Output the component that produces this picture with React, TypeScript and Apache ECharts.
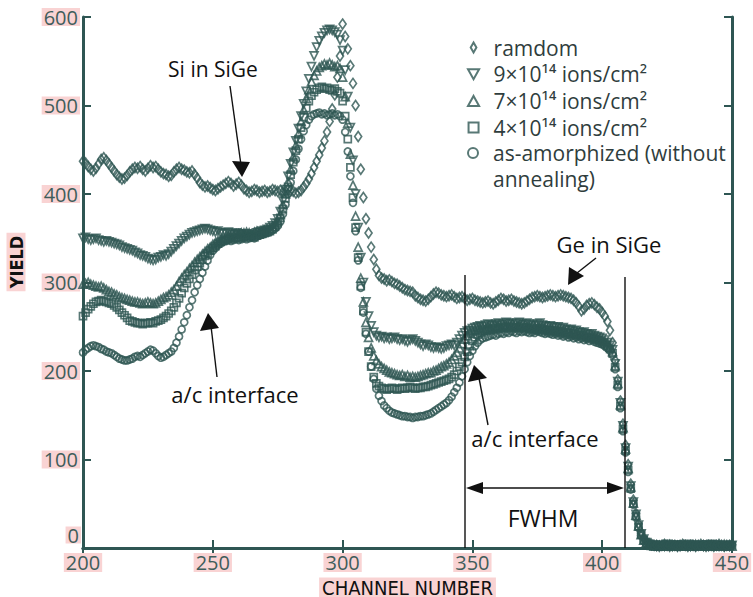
import React, { useEffect, useRef } from 'react';
import * as echarts from 'echarts';

// ---- data ----
const CH_START = 200;
const CH_END = 450;
const xTicks = [200, 250, 300, 350, 400, 450];
const yTicks = [0, 100, 200, 300, 400, 500, 600];

const seriesNames = [
  'ramdom',
  '9×10¹⁴ ions/cm²',
  '7×10¹⁴ ions/cm²',
  '4×10¹⁴ ions/cm²',
  'as-amorphized (without annealing)',
];

// yields per channel, channel 200 .. 450
const ramdom = [
  437, 435, 431, 428, 426, 429, 434, 439, 441, 438,
  434, 430, 426, 422, 419, 417, 418, 421, 425, 428,
  430, 429, 431, 428, 426, 429, 432, 430, 431, 428,
  425, 423, 422, 420, 421, 425, 428, 430, 428, 427,
  425, 424, 426, 422, 418, 413, 410, 408, 409, 407,
  405, 404, 406, 408, 410, 412, 414, 412, 409, 411,
  413, 410, 406, 404, 402, 403, 405, 404, 402, 403,
  404, 402, 403, 405, 404, 403, 404, 402, 403, 405,
  404, 403, 401, 402, 404, 408, 412, 417, 423, 430,
  437, 444, 452, 460, 470, 482, 496, 512, 532, 556,
  592, 578, 564, 545, 525, 500, 465, 428, 396, 372,
  356, 340, 326, 315, 308, 305, 304, 302, 303, 301,
  299, 298, 296, 294, 292, 291, 290, 289, 285, 283,
  281, 280, 279, 281, 284, 287, 289, 288, 286, 285,
  284, 285, 286, 284, 282, 283, 284, 282, 280, 281,
  282, 280, 279, 278, 277, 278, 279, 277, 276, 278,
  280, 282, 281, 279, 280, 281, 279, 278, 277, 276,
  277, 279, 281, 283, 284, 285, 284, 283, 284, 285,
  286, 285, 284, 285, 286, 285, 284, 283, 282, 280,
  277, 273, 268, 270, 274, 276, 277, 275, 272, 270,
  266, 262, 256, 246, 232, 212, 190, 166, 140, 116,
  94, 72, 54, 39, 27, 17, 11, 7, 5, 4,
  3, 3, 2, 3, 4, 3, 2, 3, 3, 2,
  3, 4, 3, 2, 3, 3, 2, 3, 4, 3,
  2, 3, 3, 2, 3, 4, 3, 2, 3, 3,
  4,
];

const dose9 = [
  350, 351, 349, 348, 349, 350, 348, 347, 346, 347,
  346, 345, 344, 343, 342, 340, 339, 338, 337, 336,
  334, 333, 331, 330, 329, 327, 326, 325, 326, 328,
  329, 331, 330, 332, 335, 338, 341, 344, 347, 350,
  352, 354, 356, 357, 358, 359, 360, 361, 360, 359,
  358, 357, 358, 356, 355, 356, 357, 355, 354, 356,
  355, 354, 353, 355, 354, 352, 354, 356, 357, 358,
  359, 360, 362, 364, 367, 372, 380, 392, 405, 420,
  434, 447, 460, 474, 488, 502, 516, 530, 544, 556,
  566, 573, 578, 582, 585, 586, 585, 583, 580, 574,
  562, 540, 510, 475, 438, 400, 362, 328, 300, 278,
  262, 251, 244, 240, 238, 239, 237, 238, 236, 237,
  238, 236, 235, 236, 234, 233, 235, 236, 234, 232,
  230, 228, 230, 229, 227, 226, 227, 226, 225, 226,
  228, 229, 230, 229, 232, 236, 240, 243, 245, 246,
  248, 249, 250, 251, 250, 252, 253, 252, 251, 253,
  254, 252, 253, 255, 254, 253, 252, 254, 255, 253,
  252, 254, 253, 252, 251, 253, 254, 252, 251, 250,
  251, 250, 249, 250, 248, 249, 247, 246, 247, 245,
  246, 244, 243, 244, 242, 241, 242, 240, 239, 238,
  237, 235, 232, 229, 224, 208, 188, 164, 138, 113,
  92, 70, 52, 38, 26, 16, 10, 6, 4, 3,
  3, 2, 3, 3, 2, 4, 3, 2, 3, 2,
  2, 3, 3, 4, 2, 3, 2, 3, 3, 2,
  3, 2, 4, 3, 3, 2, 3, 2, 3, 2,
  3,
];

const dose7 = [
  298, 299, 300, 298, 297, 296, 295, 296, 294, 292,
  290, 289, 287, 286, 284, 283, 282, 281, 280, 279,
  278, 278, 277, 276, 277, 278, 277, 276, 277, 279,
  281, 283, 284, 286, 289, 292, 296, 301, 305, 309,
  312, 316, 319, 323, 326, 329, 332, 335, 338, 340,
  343, 345, 347, 348, 350, 351, 352, 353, 354, 355,
  355, 356, 356, 357, 356, 355, 357, 358, 357, 358,
  359, 360, 361, 363, 366, 370, 377, 388, 400, 414,
  428, 442, 455, 468, 482, 495, 508, 518, 527, 534,
  539, 543, 545, 547, 546, 548, 546, 544, 545, 542,
  532, 510, 480, 445, 410, 375, 340, 305, 278, 255,
  238, 226, 217, 212, 208, 205, 203, 201, 199, 198,
  197, 196, 195, 196, 194, 195, 193, 194, 193, 194,
  195, 196, 197, 198, 198, 200, 201, 203, 205, 206,
  208, 210, 213, 217, 221, 226, 231, 236, 240, 243,
  245, 246, 247, 248, 249, 248, 250, 249, 251, 250,
  251, 250, 252, 251, 250, 252, 251, 250, 251, 252,
  251, 250, 249, 251, 250, 249, 248, 250, 249, 247,
  248, 247, 246, 247, 245, 246, 244, 245, 243, 244,
  243, 242, 241, 242, 240, 239, 240, 238, 237, 236,
  235, 233, 230, 227, 222, 206, 186, 162, 136, 112,
  90, 69, 51, 37, 25, 15, 9, 6, 4, 3,
  2, 3, 3, 2, 3, 3, 4, 2, 3, 3,
  3, 2, 3, 3, 2, 3, 4, 3, 2, 3,
  3, 3, 2, 3, 2, 3, 3, 4, 2, 3,
  2,
];

const dose4 = [
  262, 266, 270, 273, 276, 278, 279, 280, 279, 278,
  277, 276, 274, 272, 269, 266, 263, 260, 257, 256,
  255, 254, 254, 253, 254, 254, 255, 254, 256, 257,
  258, 260, 262, 265, 268, 272, 277, 282, 288, 294,
  299, 304, 309, 314, 318, 322, 326, 330, 333, 336,
  339, 341, 344, 346, 347, 348, 349, 350, 351, 350,
  351, 352, 351, 352, 353, 352, 351, 353, 354, 355,
  356, 357, 358, 360, 363, 367, 373, 383, 395, 408,
  422, 436, 449, 462, 475, 487, 497, 505, 511, 515,
  518, 520, 521, 519, 520, 518, 517, 519, 516, 514,
  505, 488, 462, 430, 396, 362, 328, 296, 268, 244,
  222, 205, 193, 186, 183, 181, 180, 179, 180, 181,
  180, 179, 180, 181, 180, 181, 182, 181, 180, 181,
  181, 182, 182, 183, 184, 185, 186, 187, 188, 189,
  190, 191, 193, 196, 200, 205, 210, 216, 222, 228,
  234, 238, 241, 243, 245, 246, 247, 246, 248, 247,
  248, 249, 248, 250, 249, 248, 250, 249, 248, 249,
  248, 249, 247, 248, 247, 246, 248, 247, 246, 245,
  246, 245, 244, 245, 243, 244, 242, 243, 241, 242,
  240, 241, 239, 240, 238, 237, 238, 236, 235, 234,
  233, 231, 228, 225, 220, 204, 184, 160, 134, 110,
  88, 67, 50, 36, 24, 15, 9, 5, 4, 3,
  3, 2, 2, 3, 3, 2, 3, 3, 2, 4,
  2, 3, 2, 3, 3, 2, 3, 2, 3, 3,
  4, 2, 3, 3, 2, 3, 2, 3, 3, 2,
  3,
];

const amorph = [
  221, 224, 226, 228, 229, 228, 227, 225, 224, 222,
  221, 220, 218, 216, 214, 213, 212, 212, 213, 214,
  216, 217, 216, 218, 220, 222, 224, 223, 220, 217,
  215, 216, 218, 220, 222, 226, 232, 239, 247, 255,
  263, 272, 280, 289, 297, 304, 311, 318, 325, 331,
  336, 339, 342, 344, 346, 347, 348, 347, 348, 349,
  348, 349, 350, 349, 350, 351, 350, 352, 353, 354,
  355, 356, 357, 359, 361, 364, 369, 377, 388, 400,
  413, 426, 439, 451, 462, 471, 478, 484, 488, 490,
  491, 492, 490, 491, 489, 490, 491, 489, 490, 488,
  484, 470, 448, 420, 390, 358, 325, 294, 266, 242,
  222, 205, 191, 180, 172, 166, 161, 158, 155, 153,
  152, 151, 150, 149, 149, 148, 148, 147, 148, 148,
  149, 149, 150, 151, 152, 154, 156, 158, 160, 162,
  164, 167, 171, 176, 181, 187, 194, 202, 210, 217,
  223, 228, 232, 235, 237, 238, 239, 240, 241, 240,
  242, 243, 242, 244, 243, 245, 244, 243, 245, 244,
  245, 244, 243, 244, 243, 245, 244, 243, 242, 243,
  242, 241, 242, 240, 241, 239, 240, 238, 239, 237,
  238, 236, 237, 235, 236, 234, 235, 233, 232, 231,
  230, 228, 226, 223, 218, 202, 182, 158, 132, 108,
  86, 66, 49, 35, 23, 14, 8, 5, 3, 3,
  2, 3, 3, 2, 3, 2, 3, 4, 3, 2,
  3, 3, 2, 3, 2, 4, 3, 3, 2, 3,
  2, 3, 3, 4, 3, 2, 3, 3, 2, 3,
  3,
];

// ---- styling ----
const INK = '#2e5653';
const PINK = '#f9d3d3';
const LABEL = '#3f5d5b';
const FONT = '"Open Sans", "Noto Sans", sans-serif';
const NARROW = '"Liberation Sans Narrow", "DejaVu Sans Condensed", "Liberation Sans", sans-serif';
const BLACK = '#111111';

const ICONS = [
  'path://M5,0L9,7L5,14L1,7Z',
  'path://M0,0L10,0L5,9Z',
  'path://M5,0L10,9L0,9Z',
  'path://M0,0L10,0L10,10L0,10Z',
  'path://M5,0A5,5,0,1,1,5,10A5,5,0,1,1,5,0Z',
];

function toPairs(values: number[]) {
  return values.map((v, i) => [CH_START + i, v]);
}

function scatter(name: string, values: number[], symbol: string, size: any, rotate = 0) {
  return {
    type: 'scatter',
    name,
    data: toPairs(values),
    symbol,
    symbolSize: size,
    symbolRotate: rotate,
    itemStyle: { color: 'rgba(255,255,255,0)', borderColor: INK, borderWidth: 1.7 },
    silent: true,
    emphasis: { disabled: true },
    xAxisIndex: 0,
    yAxisIndex: 0,
  };
}

function arrowHead(points: number[][]) {
  return { type: 'polygon', z: 100, shape: { points }, style: { fill: BLACK } };
}
function seg(x1: number, y1: number, x2: number, y2: number) {
  return { type: 'line', z: 100, shape: { x1, y1, x2, y2 }, style: { stroke: BLACK, lineWidth: 1.4 } };
}
function note(text: string, x: number, y: number, size = 22) {
  return {
    type: 'text', z: 100, x, y,
    style: { text, fill: BLACK, fontSize: size, fontFamily: FONT, align: 'center', verticalAlign: 'middle' },
  };
}

export default function App() {
  const ref = useRef<HTMLDivElement>(null);

  useEffect(() => {
    if (!ref.current) return;
    const chart = echarts.init(ref.current, undefined, { renderer: 'svg' });

    const axisCommon = {
      axisLine: { lineStyle: { color: INK, width: 3 } },
      axisTick: { inside: true, length: 8, lineStyle: { color: INK, width: 2 } },
      splitLine: { show: false },
    };
    const labelCommon = {
      color: LABEL,
      fontFamily: FONT,
      fontSize: 20,
      backgroundColor: PINK,
      padding: [0, 2, 0, 2],
    };

    const legendCommon = {
      orient: 'vertical',
      left: 467,
      padding: 0,
      itemWidth: 30,
      itemHeight: 10,
      symbolKeepAspect: true,
      selectedMode: false,
      textStyle: { color: '#2f3d3d', fontFamily: FONT, fontSize: 21 },
    };

    chart.setOption({
      animation: false,
      backgroundColor: '#ffffff',
      grid: {
        left: 83, top: 17, width: 649, height: 531,
        containLabel: false, outerBoundsMode: 'none',
      },
      xAxis: [
        {
          type: 'value', min: CH_START, max: CH_END, interval: 50, position: 'bottom',
          ...axisCommon,
          axisLabel: {
            ...labelCommon, lineHeight: 19, margin: 5, verticalAlign: 'top',
            formatter: (v: number) => (xTicks.includes(v) ? String(v) : ''),
          },
          name: 'CHANNEL NUMBER', nameLocation: 'middle', nameGap: 14,
          nameTextStyle: {
            color: BLACK, fontFamily: NARROW, fontSize: 20, lineHeight: 20,
            backgroundColor: PINK, padding: [1, 3, 0, 3],
          },
        },
        {
          type: 'value', min: CH_START, max: CH_END, interval: 50, position: 'top',
          ...axisCommon, axisLabel: { show: false },
        },
      ],
      yAxis: [
        {
          type: 'value', min: 0, max: 600, interval: 100, position: 'left',
          ...axisCommon,
          axisLabel: {
            ...labelCommon, lineHeight: 18, margin: 3,
            // the lowest label ("0") is lifted above the x labels, drawn in graphic below
            formatter: (v: number) => (yTicks.includes(v) && v !== yTicks[0] ? String(v) : ''),
          },
        },
        {
          type: 'value', min: 0, max: 600, interval: 100, position: 'right',
          ...axisCommon, axisLabel: { show: false },
        },
      ],
      legend: [
        {
          ...legendCommon,
          top: 37,
          itemGap: 5.7,
          textStyle: { ...legendCommon.textStyle, lineHeight: 21 },
          data: seriesNames.slice(0, 4).map((name, i) => ({ name, icon: ICONS[i] })),
        },
        {
          ...legendCommon,
          top: 114,
          textStyle: { ...legendCommon.textStyle, lineHeight: 26 },
          formatter: () => ' \nas-amorphized (without\nannealing)',
          data: [{ name: seriesNames[4], icon: ICONS[4] }],
        },
      ],
      series: [
        scatter(seriesNames[0], ramdom, 'diamond', [7, 10]),
        scatter(seriesNames[1], dose9, 'triangle', 8, 180),
        scatter(seriesNames[2], dose7, 'triangle', 8),
        scatter(seriesNames[3], dose4, 'rect', 7),
        scatter(seriesNames[4], amorph, 'circle', 7),
      ],
      graphic: [
        {
          type: 'text', z: 100, x: 81, y: 535,
          style: {
            text: String(yTicks[0]), fill: LABEL, fontSize: 20, fontFamily: FONT, lineHeight: 17,
            align: 'right', verticalAlign: 'middle', backgroundColor: PINK, padding: [0, 2, 0, 2],
          },
        },
        {
          type: 'text', z: 100, x: 16, y: 262, rotation: Math.PI / 2,
          style: {
            text: 'YIELD', fill: BLACK, fontSize: 18, fontWeight: 'bold', fontFamily: NARROW,
            align: 'center', verticalAlign: 'middle', backgroundColor: PINK, padding: [1, 3, 0, 3],
          },
        },
        // Si in SiGe
        note('Si in SiGe', 213, 69, 21),
        seg(230, 86, 241, 165),
        arrowHead([[232, 161], [250, 162], [242, 177]]),
        // left a/c interface
        note('a/c interface', 235, 394),
        seg(217, 377, 211, 326),
        arrowHead([[208, 313], [200, 331], [219, 328]]),
        // Ge in SiGe
        note('Ge in SiGe', 609, 244),
        seg(596, 258, 577, 273),
        arrowHead([[568, 285], [569, 267], [584, 276]]),
        // right a/c interface
        note('a/c interface', 535, 438),
        seg(488, 425, 479, 378),
        arrowHead([[474, 365], [468, 382], [487, 378]]),
        // FWHM
        seg(465, 275, 465, 548),
        seg(625, 277, 625, 548),
        seg(470, 488, 620, 488),
        arrowHead([[466, 488], [483, 482], [483, 494]]),
        arrowHead([[624, 488], [607, 482], [607, 494]]),
        note('FWHM', 543, 518, 23),
      ],
    });

    return () => chart.dispose();
  }, []);

  return (
    <div
      ref={ref}
      style={{ position: 'absolute', left: 0, top: 0, width: 753, height: 597, background: '#fff' }}
    />
  );
}
